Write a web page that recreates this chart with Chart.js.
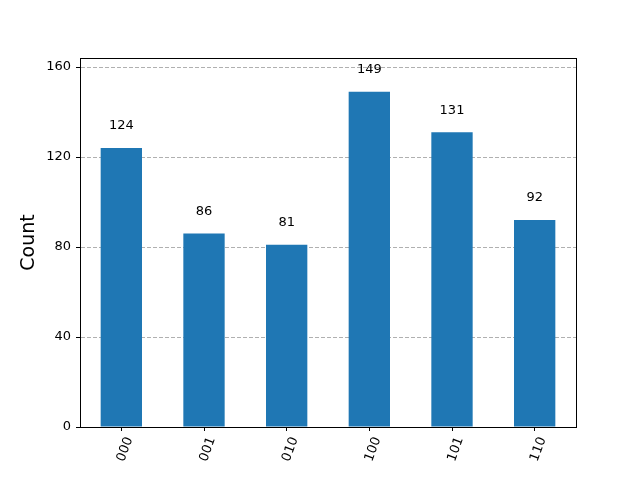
<!DOCTYPE html>
<html>
<head>
<meta charset="utf-8">
<script src="https://cdn.jsdelivr.net/npm/chart.js@4"></script>
<style>
  body { margin: 0; background: #fff; }
  canvas { display: block; }
</style>
</head>
<body>
<canvas id="hist" width="640" height="480"></canvas>
<script>
// histogram data
const states = ['000', '001', '010', '100', '101', '110'];
const counts = [124, 86, 81, 149, 131, 92];
const yTicks = [0, 40, 80, 120, 160];

const barColor = '#1f77b4';
const fontFamily = '"DejaVu Sans", sans-serif';

// frame around the plot area (matplotlib spines)
const framePlugin = {
    id: 'frame',
    afterDraw: function (chart) {
        const a = chart.chartArea;
        const ctx = chart.ctx;
        ctx.save();
        ctx.strokeStyle = '#000';
        ctx.lineWidth = 1;
        ctx.strokeRect(Math.round(a.left) + 0.5, Math.round(a.top) + 0.5, Math.round(a.right - a.left), Math.round(a.bottom - a.top));
        ctx.restore();
    }
};

// value labels over each bar
const valueLabels = {
    id: 'valueLabels',
    afterDatasetsDraw: function (chart) {
        const ctx = chart.ctx;
        const meta = chart.getDatasetMeta(0);
        ctx.save();
        ctx.fillStyle = '#000';
        ctx.font = '13px ' + fontFamily;
        ctx.textAlign = 'center';
        ctx.textBaseline = 'middle';
        meta.data.forEach((bar, i) => {
            ctx.fillText(String(counts[i]), bar.x, bar.y - 22);
        });
        ctx.restore();
    }
};

new Chart(document.getElementById('hist').getContext('2d'), {
    type: 'bar',
    data: {
        labels: states,
        datasets: [{
            data: counts,
            backgroundColor: barColor,
            borderColor: barColor,
            borderWidth: 0,
            inflateAmount: 0,
            barPercentage: 0.5,
            categoryPercentage: 1.0
        }]
    },
    options: {
        responsive: false,
        animation: false,
        layout: { padding: { top: 58, right: 64, left: 18, bottom: 0 } },
        plugins: {
            legend: { display: false },
            tooltip: { enabled: false }
        },
        scales: {
            x: {
                offset: true,
                grid: { offset: false, drawOnChartArea: false, tickColor: '#000', tickLength: 4 },
                border: { color: '#000' },
                ticks: {
                    color: '#000',
                    font: { family: fontFamily, size: 13 },
                    minRotation: 70,
                    maxRotation: 70,
                    labelOffset: 8,
                    padding: 4
                },
                afterFit: function (scale) { scale.height = 53; }
            },
            y: {
                min: 0,
                max: 164,
                afterBuildTicks: function (scale) {
                    scale.ticks = yTicks.map(v => ({ value: v }));
                },
                grid: { color: '#b0b0b0', tickColor: '#000', tickLength: 4, lineWidth: 1 },
                border: { color: '#000', dash: [4, 2] },
                ticks: {
                    color: '#000',
                    font: { family: fontFamily, size: 13 },
                    padding: 5
                },
                title: {
                    display: true,
                    text: 'Count',
                    color: '#000',
                    font: { family: fontFamily, size: 19 },
                    padding: { top: 0, bottom: 0 }
                },
                afterFit: function (scale) { scale.width = 62; }
            }
        }
    },
    plugins: [framePlugin, valueLabels]
});
</script>
</body>
</html>
